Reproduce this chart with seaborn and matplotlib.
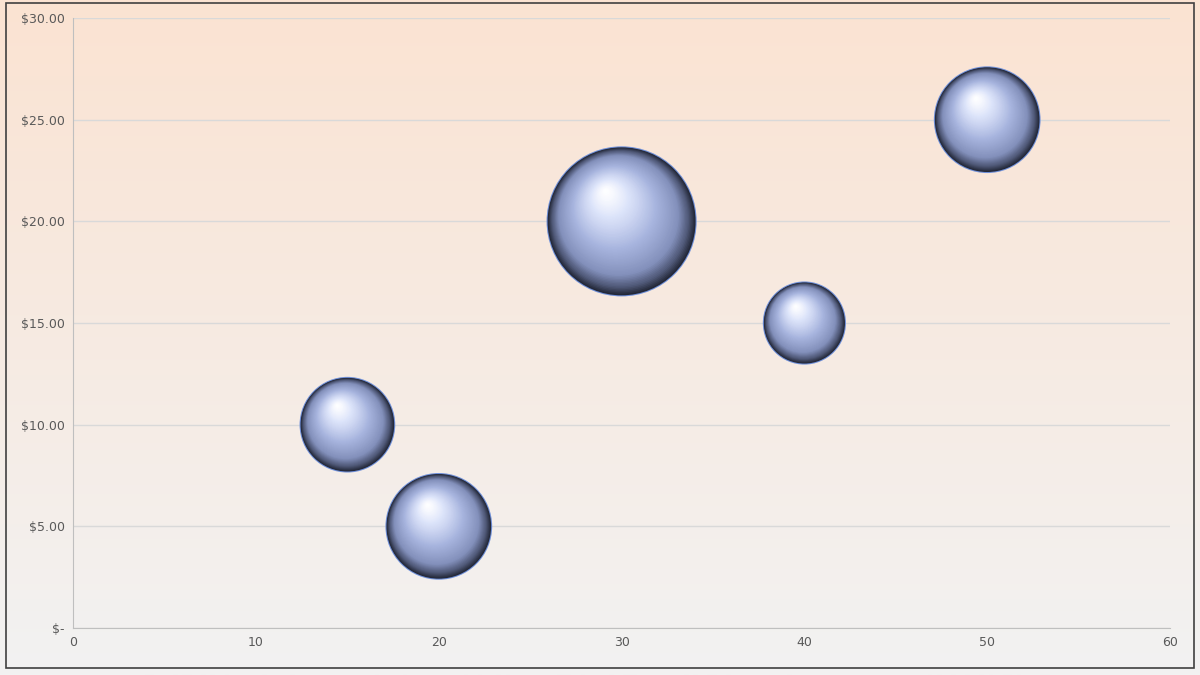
import numpy as np
import matplotlib
matplotlib.use("Agg")
import matplotlib.pyplot as plt
import matplotlib.colors as mcolors
import pandas as pd
import seaborn as sns

# chart values
x_vals = [15, 20, 30, 40, 50]
y_vals = [10, 5, 20, 15, 25]
bubble_size = [4, 5, 10, 3, 5]

sns.set_style("white")
plt.rcParams['font.family'] = ['DejaVu Sans']

fig = plt.figure(figsize=(12, 6.75), dpi=100)

# background gradient across the whole chart area
bg = fig.add_axes([0, 0, 1, 1], zorder=0)
grad = np.linspace(0, 1, 256).reshape(-1, 1)
cmap_bg = mcolors.LinearSegmentedColormap.from_list("bg", ["#FBE3D2", "#F2F2F2"])
bg.imshow(grad, aspect="auto", cmap=cmap_bg, extent=[0, 1, 0, 1])
bg.add_patch(plt.Rectangle((0.005, 0.01), 0.99, 0.985, fill=False,
                           edgecolor="#404040", lw=1.2, transform=bg.transAxes))
bg.axis("off")

ax = fig.add_axes([0.061, 0.0696, 0.914, 0.9037], zorder=1)
ax.set_facecolor("none")
ax.set_xlim(0, 60)
ax.set_ylim(0, 30)

df = pd.DataFrame({"x": x_vals, "y": y_vals, "s": bubble_size})
df["r_px"] = 23.4 * np.sqrt(df["s"])

# outline ring first
sns.scatterplot(data=df, x="x", y="y", s=(0.72 * 2 * df["r_px"] + 1.5) ** 2,
                color="#6f8fd8", edgecolor="none", ax=ax, legend=False, zorder=2)

# shaded sphere: stack shrinking circles drifting toward the highlight
ramp = mcolors.LinearSegmentedColormap.from_list(
    "ball", [(0, "#ffffff"), (0.15, "#dde4fa"), (0.45, "#a7b4de"),
             (0.75, "#8390bb"), (0.9, "#4f5877"), (1.0, "#232838")])
px_x = 60 / 1097.0
px_y = 30 / 610.0
for t in np.linspace(1, 0.02, 70):
    cx = df["x"] - (1 - t) * 0.22 * df["r_px"] * px_x
    cy = df["y"] + (1 - t) * 0.42 * df["r_px"] * px_y
    ax.scatter(cx, cy, s=(0.72 * 2 * df["r_px"] * t) ** 2,
               color=ramp(t ** 1.4), edgecolors="none", zorder=3)

ax.set_xticks(range(0, 61, 10))
ax.set_yticks(range(0, 31, 5))
ax.set_yticklabels(["$-" if v == 0 else f"${v:.2f}" for v in range(0, 31, 5)])
ax.yaxis.grid(True, color="#d9d9d9", lw=1)
ax.set_axisbelow(True)
ax.tick_params(colors="#595959", labelsize=9, length=0, pad=6)
for side in ["top", "right"]:
    ax.spines[side].set_visible(False)
for side in ["left", "bottom"]:
    ax.spines[side].set_color("#bfbfbf")
ax.set_xlabel("")
ax.set_ylabel("")

fig.savefig("out.png", dpi=100)
